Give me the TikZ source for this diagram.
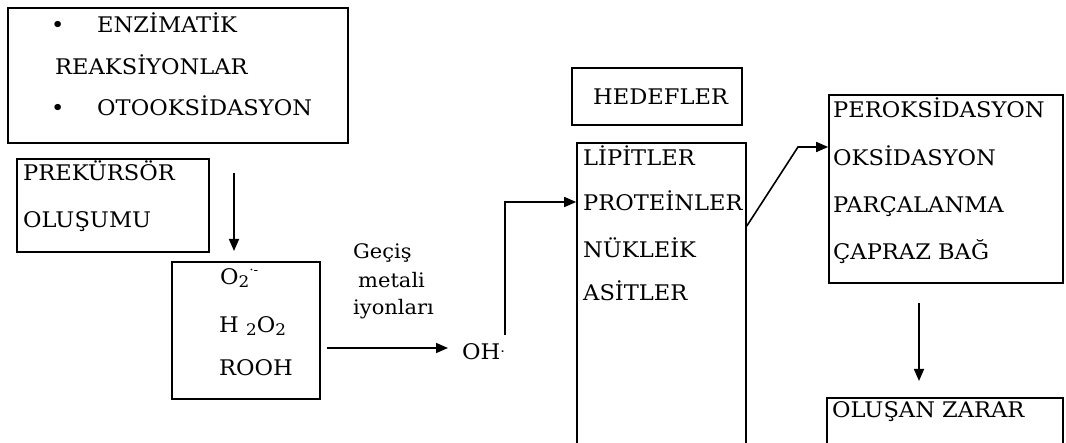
\documentclass[tikz,border=0pt]{standalone}
\usepackage{fontspec}
\setmainfont[FakeStretch=1.05]{DejaVu Serif}
\usetikzlibrary{arrows.meta}
\tikzset{
  box/.style={draw, line width=1.6pt, rectangle, inner sep=0pt, anchor=center},
  txt/.style={anchor=base west, inner sep=0pt, font=\fontsize{21.5}{24}\selectfont},
  lbl/.style={anchor=base west, inner sep=0pt, font=\fontsize{20}{22}\selectfont},
  arr/.style={line width=1.6pt, -{Triangle[length=12pt,width=10pt]}},
  ln/.style={line width=1.6pt}
}
\begin{document}
\begin{tikzpicture}[x=1pt,y=-1pt]
\useasboundingbox (0,0) rectangle (1066,443);
\clip (0,0) rectangle (1066,443);
% boxes
\node[box, minimum width=340pt, minimum height=135pt] (src) at (178,75.5) {};
\node[box, minimum width=192pt, minimum height=93pt] (prek) at (113,205.5) {};
\node[box, minimum width=148pt, minimum height=137pt] (ros) at (246,330.5) {};
\node[box, minimum width=170pt, minimum height=57pt] (hed) at (657,96.5) {};
\node[box, minimum width=169pt, minimum height=340pt] (tgt) at (661.5,313) {};
\node[box, minimum width=234pt, minimum height=188pt] (dmg) at (946,189) {};
\node[box, minimum width=236pt, minimum height=80pt] (harm) at (945,438) {};
% texts
\node[txt] (b1) at (51,32.5) {•};
\node[txt] (t1) at (97,32.5) {ENZİMATİK};
\node[txt] (t2) at (55,74.5) {REAKSİYONLAR};
\node[txt] (b2) at (51,115.5) {•};
\node[txt] (t3) at (97,115.5) {OTOOKSİDASYON};
\node[txt] (p1) at (23,180.5) {PREKÜRSÖR};
\node[txt] (p2) at (23,227.5) {OLUŞUMU};
\node[txt] (r1) at (220,284.5) {O\raisebox{-0.25ex}{\fontsize{16}{16}\selectfont 2}\raisebox{0.9ex}{\fontsize{13}{13}\selectfont ·-}};
\node[txt] (r2) at (219,332.5) {H \raisebox{-0.25ex}{\fontsize{16}{16}\selectfont 2}O\raisebox{-0.25ex}{\fontsize{16}{16}\selectfont 2}};
\node[txt] (r3) at (219,375.5) {ROOH};
\node[lbl] (g1) at (353,259) {Geçiş};
\node[lbl] (g2) at (358,288) {metali};
\node[lbl] (g3) at (353,315) {iyonları};
\node[txt] (oh) at (462,359.5) {OH\raisebox{0.3ex}{\fontsize{14}{14}\selectfont ·}};
\node[txt] (h1) at (593,104.5) {HEDEFLER};
\node[txt] (l1) at (583,165.5) {LİPİTLER};
\node[txt] (prot) at (583,210.5) {PROTEİNLER};
\node[txt] (l3) at (583,257.5) {NÜKLEİK};
\node[txt] (l4) at (583,300.5) {ASİTLER};
\node[txt] (d1) at (833,117.5) {PEROKSİDASYON};
\node[txt] (oks) at (833,165.5) {OKSİDASYON};
\node[txt] (d3) at (833,212.5) {PARÇALANMA};
\node[txt] (d4) at (833,259.5) {ÇAPRAZ BAĞ};
\node[txt] (z1) at (832,417.5) {OLUŞAN ZARAR};
% connectors
\coordinate (a1s) at (234,173);
\coordinate (a1e) at (234,251);
\draw[arr] (a1s) -- (a1e);
\coordinate (a2s) at (327,348);
\coordinate (a2e) at (448,348);
\draw[arr] (a2s) -- (a2e);
\coordinate (a3s) at (505,335);
\draw[arr] (a3s) |- (tgt.west |- 0,202);
\coordinate (a4k) at (798,147);
\draw[arr] (tgt.east |- 0,226) -- (a4k) -- (dmg.west |- 0,147);
\coordinate (a5s) at (919,303);
\coordinate (a5e) at (919,381);
\draw[arr] (a5s) -- (a5e);
\end{tikzpicture}
\end{document}
